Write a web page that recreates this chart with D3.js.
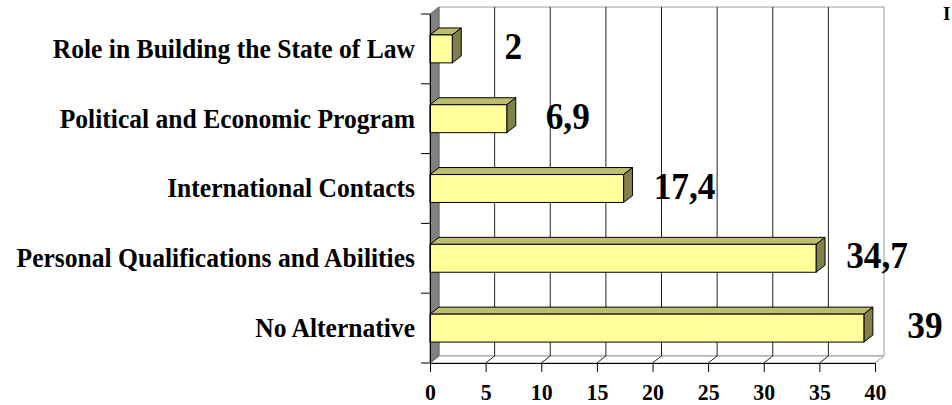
<!DOCTYPE html>
<html>
<head>
<meta charset="utf-8">
<script src="https://cdn.jsdelivr.net/npm/d3@7"></script>
<style>
    html, body { margin: 0; padding: 0; background: #fff; }
    svg { display: block; }
    text { font-family: "Liberation Serif", "Times New Roman", serif; font-weight: bold; fill: #000; }
</style>
</head>
<body>
<div id="chart"></div>
<script>
// chart data, top bar first
const categories = [
    "Role in Building the State of Law",
    "Political and Economic Program",
    "International Contacts",
    "Personal Qualifications and Abilities",
    "No Alternative"
];
const values = [2, 6.9, 17.4, 34.7, 39];
const valueLabels = ["2", "6,9", "17,4", "34,7", "39"];
const xTicks = [0, 5, 10, 15, 20, 25, 30, 35, 40];

const width = 952;
const height = 405;

// 3d depth offset of the walls and bars
const depth = { dx: 9, dy: 7 };
// the original text is a bit narrower than Liberation Serif
const squeeze = 0.93;

const svg = d3.select("#chart")
    .append("svg")
    .attr("width", width)
    .attr("height", height);

const x = d3.scaleLinear()
    .domain([0, 40])
    .range([430, 875]);

const y = d3.scaleBand()
    .domain(categories)
    .range([14, 363])
    .paddingInner(0.6)
    .paddingOuter(0.3);

const top_y = y.range()[0];
const bottom_y = y.range()[1];
const x0 = x(0), x1 = x(40);

const poly = pts => "M" + pts.map(p => p.join(",")).join("L") + "Z";

// back wall
svg.append("path")
    .attr("d", poly([[x0 + depth.dx, top_y - depth.dy], [x1 + depth.dx, top_y - depth.dy],
        [x1 + depth.dx, bottom_y - depth.dy], [x0 + depth.dx, bottom_y - depth.dy]]))
    .attr("fill", "#fff")
    .attr("stroke", "#999")
    .attr("stroke-width", 1);

// floor
svg.append("path")
    .attr("d", poly([[x0, bottom_y], [x1, bottom_y],
        [x1 + depth.dx, bottom_y - depth.dy], [x0 + depth.dx, bottom_y - depth.dy]]))
    .attr("fill", "#fff")
    .attr("stroke", "#999")
    .attr("stroke-width", 1);

// gridlines: up the back wall and across the floor
svg.append("g")
    .selectAll("path")
    .data(xTicks.filter(t => t > 0 && t < 40))
    .join("path")
    .attr("d", t => `M${x(t) + depth.dx},${top_y - depth.dy}V${bottom_y - depth.dy}L${x(t)},${bottom_y}`)
    .attr("fill", "none")
    .attr("stroke", "#222")
    .attr("stroke-width", 1);

// left side wall
svg.append("path")
    .attr("d", poly([[x0, top_y], [x0 + depth.dx, top_y - depth.dy],
        [x0 + depth.dx, bottom_y - depth.dy], [x0, bottom_y]]))
    .attr("fill", "#808080")
    .attr("stroke", "#666")
    .attr("stroke-width", 1);

// bars
const bw = y.bandwidth();
const bars = svg.append("g")
    .selectAll("g")
    .data(categories.map((c, i) => ({ cat: c, value: values[i], label: valueLabels[i] })))
    .join("g");

bars.append("path")
    .attr("d", d => {
        const yt = y(d.cat), xe = x(d.value);
        return poly([[x0, yt], [xe, yt], [xe + depth.dx, yt - depth.dy], [x0 + depth.dx, yt - depth.dy]]);
    })
    .attr("fill", "#BDBD6E")
    .attr("stroke", "#000")
    .attr("stroke-width", 1)
    .attr("stroke-linejoin", "round");

bars.append("path")
    .attr("d", d => {
        const yt = y(d.cat), xe = x(d.value);
        return poly([[xe, yt], [xe + depth.dx, yt - depth.dy], [xe + depth.dx, yt + bw - depth.dy], [xe, yt + bw]]);
    })
    .attr("fill", "#80804A")
    .attr("stroke", "#000")
    .attr("stroke-width", 1)
    .attr("stroke-linejoin", "round");

bars.append("rect")
    .attr("x", x0)
    .attr("y", d => y(d.cat))
    .attr("width", d => x(d.value) - x0)
    .attr("height", bw)
    .attr("fill", "#FFFF99")
    .attr("stroke", "#000")
    .attr("stroke-width", 1);

// value labels
bars.append("text")
    .attr("transform", d => `translate(${x(d.value) + 61},${y(d.cat) + bw / 2 + 10}) scale(${squeeze},1)`)
    .attr("text-anchor", "middle")
    .attr("font-size", 38)
    .text(d => d.label);

// category axis
const yAxis = svg.append("g")
    .attr("transform", `translate(${x0},0)`)
    .call(d3.axisLeft(y).tickSize(0).tickPadding(15))
    .call(g => g.select(".domain").attr("stroke", "#000"));
yAxis.selectAll(".tick text")
    .attr("x", -15 / squeeze)
    .attr("transform", `scale(${squeeze},1)`)
    .attr("font-size", 27.5)
    .attr("font-family", null);

// ticks between categories
svg.append("g")
    .selectAll("line")
    .data(d3.range(categories.length + 1))
    .join("line")
    .attr("x1", x0 - 9)
    .attr("x2", x0)
    .attr("y1", i => top_y + i * (bottom_y - top_y) / categories.length)
    .attr("y2", i => top_y + i * (bottom_y - top_y) / categories.length)
    .attr("stroke", "#000");

// value axis
const xAxis = svg.append("g")
    .attr("transform", `translate(0,${bottom_y})`)
    .call(d3.axisBottom(x).tickValues(xTicks).tickSize(9).tickSizeOuter(0).tickPadding(11))
    .call(g => g.select(".domain").attr("stroke", "#000"));
xAxis.selectAll(".tick text")
    .attr("transform", `scale(${squeeze},1)`)
    .attr("font-size", 23.5)
    .attr("font-family", null);

// text cut off at the right edge
svg.append("text")
    .attr("x", 943)
    .attr("y", 20)
    .attr("font-size", 19)
    .text("I");
</script>
</body>
</html>
